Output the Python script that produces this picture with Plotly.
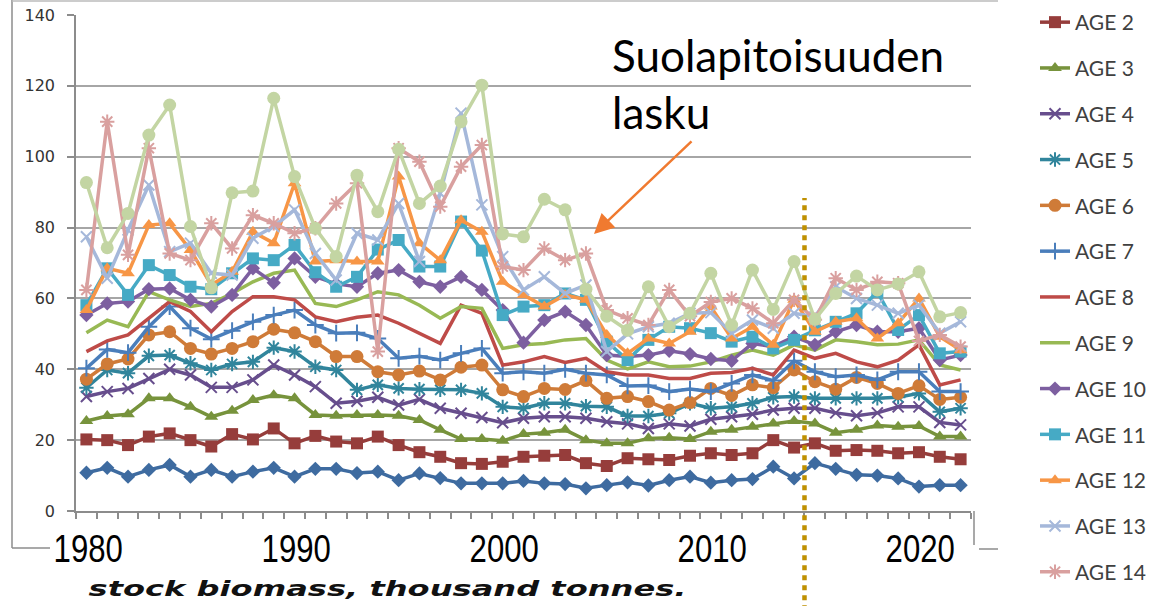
import plotly.graph_objects as go

years = list(range(1980, 2023))

age1 = [10.8,12.2,9.7,11.6,13.0,9.7,11.6,9.7,11.1,12.2,9.7,11.9,11.9,10.7,
        11.1,8.7,10.6,9.3,7.8,7.8,7.8,8.5,7.8,7.6,6.4,7.3,8.1,7.2,8.7,
        9.7,8.0,8.7,9.0,12.5,9.2,13.5,11.9,10.2,10.0,9.2,6.9,7.3,7.3]
age2 = [20.2,20.0,18.6,21.0,21.9,20.0,18.2,21.7,20.2,23.3,19.1,21.2,19.6,19.1,
        21.0,18.6,16.6,15.3,13.5,13.3,13.9,15.3,15.6,15.8,13.5,12.7,14.9,14.6,14.4,
        15.6,16.3,15.8,16.3,20.0,17.9,19.1,17.0,17.2,17.0,16.3,16.6,15.3,14.6]
age3 = [25.4,26.8,27.3,31.8,31.8,29.4,26.6,28.3,31.3,32.7,31.8,27.1,26.9,27.1,
        27.1,26.9,25.7,22.9,20.3,20.3,19.8,21.7,22.1,22.9,20.0,19.1,19.1,20.5,20.7,
        20.3,22.4,22.9,23.8,24.7,25.4,24.7,22.1,22.9,24.1,23.8,24.0,21.0,21.0]
age4 = [32.3,33.7,34.6,37.4,40.0,38.4,34.9,34.9,37.0,41.2,38.4,35.1,30.4,31.0,
        32.1,29.9,31.5,29.0,27.6,26.4,24.9,26.2,26.6,26.6,26.2,25.2,24.6,23.3,24.6,
        24.0,25.9,26.6,27.3,28.5,29.0,29.0,27.7,26.9,27.7,29.4,29.4,25.0,24.3]
age5 = [34.8,39.8,38.9,43.8,44.0,41.7,39.8,41.5,42.1,46.1,45.0,40.7,39.8,34.2,
        35.6,34.6,34.4,34.2,34.2,33.2,29.4,29.0,30.4,30.4,29.6,29.4,26.8,26.8,27.6,
        30.4,29.0,29.4,30.4,32.1,32.3,31.8,31.8,31.8,31.8,32.1,33.2,28.0,29.0]
age6 = [37.2,41.5,42.9,49.7,50.6,45.9,44.3,45.9,47.8,51.3,50.3,47.8,43.6,43.6,
        39.3,38.4,39.5,37.0,40.6,41.2,34.2,32.3,34.6,34.3,36.8,31.8,32.3,30.9,28.5,
        30.6,34.6,32.6,35.6,34.8,39.8,36.5,34.4,37.7,36.0,33.2,35.4,31.5,32.1]
age7 = [40.3,45.6,44.7,52.0,57.7,51.6,48.5,50.9,53.4,55.3,56.7,52.5,50.2,50.3,
        48.7,43.1,43.7,42.6,44.5,45.9,38.9,39.3,38.9,40.0,38.9,38.4,35.3,35.4,33.7,
        34.4,33.7,36.0,38.4,36.8,42.4,39.3,37.9,38.4,37.0,39.3,39.3,33.7,33.7]
age8 = [45.0,48.0,49.7,54.4,59.1,56.3,50.6,56.3,60.5,60.5,59.6,54.8,53.4,54.7,
        55.3,53.0,50.2,47.3,58.1,55.8,41.2,42.1,43.6,41.9,43.1,39.3,38.4,38.4,37.4,
        37.4,38.9,39.1,40.3,38.4,45.4,43.1,44.5,42.1,40.7,42.6,46.9,35.6,37.0]
age9 = [50.3,53.9,52.0,61.9,59.6,57.7,58.6,61.4,64.7,67.1,68.0,58.6,57.7,59.6,
        61.9,61.0,58.1,54.4,57.7,57.2,45.9,46.9,47.3,48.3,48.7,42.6,40.1,42.1,40.7,
        40.9,42.1,44.0,45.4,44.0,46.9,45.4,48.3,47.8,46.9,47.1,48.3,41.2,39.8]
age10 = [55.3,58.6,59.1,62.6,62.8,59.6,57.7,61.0,68.5,64.4,71.3,66.1,64.1,63.3,
         67.1,68.0,64.7,63.3,66.1,62.4,56.7,47.5,53.9,56.3,52.5,44.0,43.6,44.0,45.2,
         44.3,42.9,42.4,47.3,46.4,49.2,46.9,50.6,52.5,50.6,50.6,51.6,42.6,44.0]
age11 = [58.1,68.5,61.0,69.4,66.6,63.3,62.6,67.1,71.3,70.8,75.1,67.4,63.3,66.1,
         73.8,76.5,69.0,69.0,81.7,73.5,55.3,57.7,58.1,61.4,59.6,47.8,42.6,48.3,52.0,
         51.6,50.2,47.8,49.2,45.9,48.3,51.0,53.4,55.8,61.9,51.1,55.3,44.5,45.0]
age12 = [56.7,68.5,67.1,80.7,81.2,73.7,63.8,67.5,78.8,75.6,92.5,70.4,70.8,70.4,
         70.4,94.4,75.6,70.8,82.1,78.8,64.7,61.0,57.7,61.0,59.6,49.7,44.5,48.7,47.3,
         50.6,57.7,48.7,52.0,46.9,59.6,50.6,53.4,54.4,48.7,53.0,60.0,49.2,45.4]
age13 = [77.4,65.7,79.3,92.0,73.2,75.6,67.1,66.6,77.0,80.3,85.0,72.7,65.2,78.4,
         76.5,86.8,70.4,89.7,112.3,86.4,71.8,62.4,66.1,61.4,63.8,45.0,50.0,52.0,53.0,
         55.8,56.0,50.2,53.9,51.6,55.8,54.8,63.3,60.0,58.1,55.8,58.1,50.2,53.4]
age14 = [62.4,109.9,72.3,102.4,72.7,70.8,81.2,74.1,83.5,81.2,78.4,79.8,86.8,92.5,
         45.0,102.4,98.6,85.9,97.2,103.3,69.0,68.0,74.1,70.8,72.7,56.7,54.4,52.5,62.4,
         55.0,59.0,60.0,57.2,53.0,59.6,54.0,65.7,62.4,64.7,64.3,48.0,49.7,46.4]
age15 = [92.7,74.3,84.0,106.1,114.6,80.3,63.0,89.8,90.3,116.5,94.4,79.8,71.8,94.8,
         84.5,102.1,86.8,91.7,109.9,120.2,78.2,77.4,88.0,85.0,62.6,55.0,51.0,63.3,52.0,
         55.8,67.1,52.5,68.0,56.9,70.4,54.1,61.4,66.3,62.4,64.1,67.5,54.8,56.0]

series_names = ["AGE 1", "AGE 2", "AGE 3", "AGE 4", "AGE 5", "AGE 6", "AGE 7", "AGE 8",
                "AGE 9", "AGE 10", "AGE 11", "AGE 12", "AGE 13", "AGE 14", "AGE 15"]
series_values = [age1, age2, age3, age4, age5, age6, age7, age8,
                 age9, age10, age11, age12, age13, age14, age15]
year_labels = [1980, 1990, 2000, 2010, 2020]
y_ticks = [0, 20, 40, 60, 80, 100, 120, 140]

colors = ["#3E6BA0", "#963D3B", "#77933C", "#674E8D", "#31859C", "#CF7B38", "#4A7EBB",
          "#BE4B48", "#98B954", "#7D5FA0", "#46AAC5", "#F79646", "#A5B8DA", "#D9A09F", "#C3D5A3"]
symbols = ["diamond", "square", "triangle-up", "x-thin-open", "asterisk-open", "circle",
           "cross-thin-open", None, None, "diamond", "square", "triangle-up",
           "x-thin-open", "asterisk-open", "circle"]
sizes = [11, 12, 12, 11, 12, 13, 12, 0, 0, 11, 12, 12, 11, 12, 13]
in_legend = [False] + [True] * 13 + [False]

fig = go.Figure()
for name, vals, col, sym, sz, leg in zip(series_names, series_values, colors, symbols, sizes, in_legend):
    if sym is None:
        fig.add_trace(go.Scatter(x=years, y=vals, name=name, mode="lines",
                                 line=dict(color=col, width=3.5),
                                 showlegend=leg, legendgroup=name))
    else:
        open_sym = sym.endswith("open")
        fig.add_trace(go.Scatter(
            x=years, y=vals, name=name, mode="lines+markers",
            line=dict(color=col, width=3.5),
            marker=dict(symbol=sym, size=sz, color=col,
                        line=dict(color=col, width=2 if open_sym else 0)),
            showlegend=leg, legendgroup=name))

annotations = []
for yl in year_labels:
    annotations.append(dict(x=yl, y=(511 - 549) / 496, xref="x", yref="paper", text=str(yl),
                            showarrow=False, xshift=2, yanchor="middle",
                            font=dict(family="Liberation Sans", size=38, color="#000000")))
annotations.append(dict(x=(387 - 76) / 895, y=(511 - 589) / 496, xref="paper", yref="paper",
                        text="stock biomass, thousand tonnes.", showarrow=False,
                        xanchor="center", yanchor="middle",
                        font=dict(family="DejaVu Sans", size=21, color="#111111",
                                  weight="bold", style="italic")))
annotations.append(dict(x=(610 - 76) / 895, y=(511 - 27) / 496, xref="paper", yref="paper",
                        text="Suolapitoisuuden<br>lasku", showarrow=False, align="left",
                        xanchor="left", yanchor="top",
                        font=dict(family="Lato", size=44, color="#000000")))
annotations.append(dict(x=(594 - 76) / 895, y=(511 - 234) / 496, xref="paper", yref="paper",
                        ax=99, ay=-94, axref="pixel", ayref="pixel", text="",
                        showarrow=True, arrowhead=2, arrowsize=1.6, arrowwidth=2.5,
                        arrowcolor="#F07A30"))

shapes = [
    dict(type="line", xref="x", yref="paper", x0=2014.5, x1=2014.5,
         y0=-0.2, y1=(511 - 198) / 496, line=dict(color="#BF9000", width=4.5, dash="5px,5px")),
    dict(type="line", xref="paper", yref="paper", x0=(12 - 76) / 895, x1=(12 - 76) / 895,
         y0=(511 - 548) / 496, y1=(511 - 0) / 496, line=dict(color="#8C8C8C", width=1.5)),
    dict(type="line", xref="paper", yref="paper", x0=(12 - 76) / 895, x1=(50 - 76) / 895,
         y0=(511 - 548) / 496, y1=(511 - 548) / 496, line=dict(color="#8C8C8C", width=1.5)),
    dict(type="line", xref="paper", yref="paper", x0=(12 - 76) / 895, x1=(998 - 76) / 895,
         y0=(511 - 1) / 496, y1=(511 - 1) / 496, line=dict(color="#BBBBBB", width=1.5)),
    dict(type="line", xref="paper", yref="paper", x0=(974 - 76) / 895, x1=(974 - 76) / 895,
         y0=0, y1=(511 - 545) / 496, line=dict(color="#8C8C8C", width=1.5)),
    dict(type="line", xref="paper", yref="paper", x0=(979 - 76) / 895, x1=(998 - 76) / 895,
         y0=(511 - 549) / 496, y1=(511 - 549) / 496, line=dict(color="#8C8C8C", width=1.5)),
]

fig.update_layout(
    width=1152, height=606,
    margin=dict(l=76, r=181, t=15, b=95, autoexpand=False),
    paper_bgcolor="white", plot_bgcolor="white",
    showlegend=True,
    legend=dict(x=(1035 - 76) / 895, y=(511 - 2) / 496, xanchor="left", yanchor="top",
                font=dict(family="Lato", size=21, color="#404040"),
                traceorder="grouped", tracegroupgap=15.5,
                bgcolor="rgba(255,255,255,1)"),
    xaxis=dict(range=[1979.5, 2022.5], showgrid=False, zeroline=False,
               showticklabels=False, ticks="outside", tick0=1979.5, dtick=1,
               ticklen=6, tickcolor="#8C8C8C", tickwidth=1.5,
               showline=True, linecolor="#8C8C8C", linewidth=1.5),
    yaxis=dict(range=[0, 140], tickvals=y_ticks, showgrid=True, gridcolor="#A6A6A6",
               gridwidth=1.5, zeroline=False, ticks="outside", ticklen=7,
               tickcolor="#8C8C8C", tickwidth=1.5, showline=True, linecolor="#8C8C8C",
               linewidth=1.5, ticklabelstandoff=9,
               tickfont=dict(family="DejaVu Sans", size=16, color="#333333")),
    annotations=annotations,
    shapes=shapes,
)
try:
    fig.update_layout(legend_maxheight=606)
except Exception:
    pass

post_js = """
(function(){
  try { document.body.style.margin = '0'; document.body.style.padding = '0'; } catch (e) {}
  function squeeze(){
    try {
      var gd = document.getElementById('{plot_id}');
      if (!gd) return;
      var texts = gd.querySelectorAll('.annotation-text');
      texts.forEach(function(t){
        var s = (t.textContent || '').trim();
        var k = null;
        if (/^(19|20)[0-9]0$/.test(s)) k = 0.82;
        else if (s.indexOf('stock biomass') === 0) k = 1.53;
        if (k) {
          t.style.transformBox = 'fill-box';
          t.style.transformOrigin = 'center';
          t.style.transform = 'scaleX(' + k + ')';
        }
      });
    } catch (e) {}
  }
  squeeze();
  setTimeout(squeeze, 50);
  setTimeout(squeeze, 300);
})();
"""

fig.write_html("out.html", post_script=post_js, config={"displayModeBar": False})
